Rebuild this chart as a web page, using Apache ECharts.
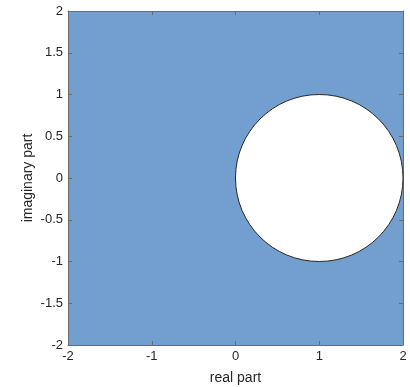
<!DOCTYPE html>
<html><head><meta charset="utf-8">
<script src="https://cdn.jsdelivr.net/npm/echarts@6/dist/echarts.min.js"></script>
<style>html,body{margin:0;padding:0;background:#fff}#c{width:410px;height:387px}</style>
</head><body><div id="c"></div>
<script>
var xTicks = [-2, -1, 0, 1, 2];
var yTicks = [-2, -1.5, -1, -0.5, 0, 0.5, 1, 1.5, 2];
var circleCenter = [1, 0];
var circleRadius = 1;
var xLabel = 'real part';
var yLabel = 'imaginary part';

var font = 'Liberation Sans, Arial, sans-serif';
function axisCommon() {
  return {
    axisLine: {show: true, onZero: false, lineStyle: {color: '#6b6b6b', width: 1}},
    axisTick: {show: true, inside: true, length: 4, lineStyle: {color: '#6b6b6b'}},
    splitLine: {show: false}
  };
}
var chart = echarts.init(document.getElementById('c'), null, {renderer: 'canvas'});
chart.setOption({
  animation: false,
  grid: {left: 68, top: 11, width: 335, height: 334, show: true, backgroundColor: '#729fcf', borderWidth: 0,
    containLabel: false, outerBoundsMode: 'none'},
  xAxis: [
    Object.assign({type: 'value', min: xTicks[0], max: xTicks[xTicks.length-1], interval: 1, position: 'bottom',
      name: xLabel, nameLocation: 'middle', nameGap: 26, nameMoveOverlap: false,
      nameTextStyle: {color: '#262626', fontSize: 14, fontFamily: font},
      axisLabel: {color: '#262626', fontSize: 13, fontFamily: font, margin: 5}}, axisCommon()),
    Object.assign({type: 'value', min: xTicks[0], max: xTicks[xTicks.length-1], interval: 1, position: 'top',
      axisLabel: {show: false}}, axisCommon())
  ],
  yAxis: [
    Object.assign({type: 'value', min: yTicks[0], max: yTicks[yTicks.length-1], interval: 0.5, position: 'left',
      name: yLabel, nameLocation: 'middle', nameGap: 33, nameRotate: 90, nameMoveOverlap: false,
      nameTextStyle: {color: '#262626', fontSize: 14, fontFamily: font},
      axisLabel: {color: '#262626', fontSize: 13, fontFamily: font, margin: 5}}, axisCommon()),
    Object.assign({type: 'value', min: yTicks[0], max: yTicks[yTicks.length-1], interval: 0.5, position: 'right',
      axisLabel: {show: false}}, axisCommon())
  ],
  series: [{
    type: 'custom',
    coordinateSystem: 'cartesian2d',
    data: [[circleCenter[0], circleCenter[1], circleRadius]],
    renderItem: function (params, api) {
      var c = api.coord([api.value(0), api.value(1)]);
      var r = api.size([api.value(2), api.value(2)]);
      return {
        type: 'ellipse',
        shape: {cx: c[0], cy: c[1], rx: r[0], ry: r[1]},
        style: {fill: '#ffffff', stroke: '#262626', lineWidth: 1}
      };
    },
    z: 1
  }]
});
</script></body></html>
